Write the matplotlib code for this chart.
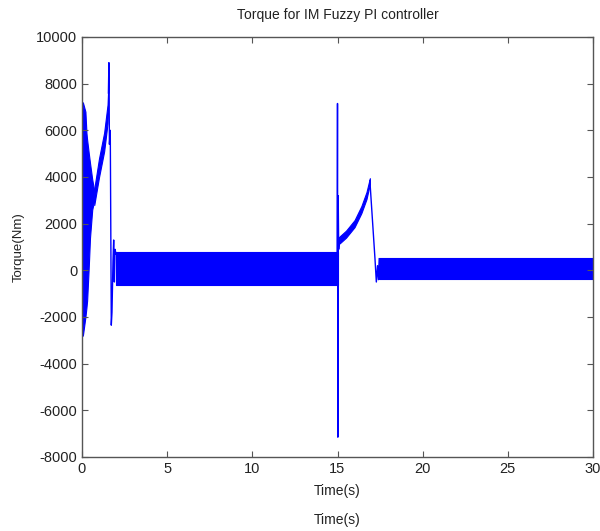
import matplotlib
matplotlib.use("Agg")
import matplotlib.pyplot as plt

plt.rcParams['font.family'] = ['Liberation Sans', 'DejaVu Sans']
plt.rcParams['axes.unicode_minus'] = False

# ---- data ----
# start-up oscillation envelope
start_t  = [0.0, 0.05, 0.2, 0.26, 0.3, 0.4, 0.47, 0.6, 0.72]
start_hi = [6500, 7200, 6800, 5900, 5600, 5000, 4600, 3900, 3400]
start_lo = [-2600, -2800, -2000, -1600, -1300, 200, 1400, 2600, 3000]

# rising torque after start (thick trace)
rise1_t  = [0.72, 1.0, 1.3, 1.5, 1.55]
rise1_hi = [3500, 4800, 5900, 7100, 8000]
rise1_lo = [2800, 4000, 5100, 6300, 7200]

# transient trace around t = 1.6 .. 2.0 s
trans1_t = [1.55, 1.58, 1.61, 1.66, 1.72, 1.76, 1.82, 1.86, 1.90, 1.94, 2.0]
trans1_v = [7600, 8900, 5400, 6000, -2350, -1800, 400, 1300, -500, 900, 700]

# steady oscillation band 1
band1_t  = [2.0, 15.0]
band1_hi = [770, 770]
band1_lo = [-620, -620]

# load step at 15 s
trans2_t = [14.98, 15.0, 15.02, 15.04, 15.07, 15.12]
trans2_v = [700, 7150, -7150, 3200, 900, 1400]

# rising torque 15 .. 17 s
rise2_t  = [15.12, 15.5, 16.0, 16.4, 16.7, 16.9]
rise2_hi = [1450, 1700, 2150, 2750, 3350, 3950]
rise2_lo = [1150, 1400, 1850, 2450, 3050, 3700]

# drop trace
trans3_t = [16.9, 17.2, 17.28, 17.35, 17.4, 17.45]
trans3_v = [3850, 500, -500, 200, -400, 500]

# steady oscillation band 2
band2_t  = [17.45, 30.0]
band2_hi = [520, 520]
band2_lo = [-380, -380]

x_ticks = [0, 5, 10, 15, 20, 25, 30]
y_ticks = [-8000, -6000, -4000, -2000, 0, 2000, 4000, 6000, 8000, 10000]

# ---- figure ----
fig = plt.figure(figsize=(6.0, 5.31), dpi=100)
ax = fig.add_axes([82/600, 1-457/531, 511/600, 420/531])

blue = '#0000ff'
for t, lo, hi in [(start_t, start_lo, start_hi), (rise1_t, rise1_lo, rise1_hi),
                  (band1_t, band1_lo, band1_hi), (rise2_t, rise2_lo, rise2_hi),
                  (band2_t, band2_lo, band2_hi)]:
    ax.fill_between(t, lo, hi, color=blue, lw=0.8)
for t, v in [(trans1_t, trans1_v), (trans2_t, trans2_v), (trans3_t, trans3_v)]:
    ax.plot(t, v, color=blue, lw=1.0)

ax.set_xlim(0, 30)
ax.set_ylim(-8000, 10000)
ax.set_xticks(x_ticks)
ax.set_yticks(y_ticks)
ax.tick_params(direction='in', top=True, right=True, length=4, width=0.8,
               colors='#555555', labelcolor='#222222', labelsize=10.5)
for s in ax.spines.values():
    s.set_color('#555555')
    s.set_linewidth(1.0)

ax.set_title('Torque for IM Fuzzy PI controller', fontsize=10, color='#222222', pad=13)
ax.set_xlabel('Time(s)', fontsize=10, color='#222222', labelpad=6)
ax.set_ylabel('Torque(Nm)', fontsize=9.5, color='#222222', labelpad=8)
fig.text(337/600, 1-520/531, 'Time(s)', ha='center', va='center', fontsize=10, color='#222222')

fig.savefig('out.png', dpi=100, facecolor='white')
